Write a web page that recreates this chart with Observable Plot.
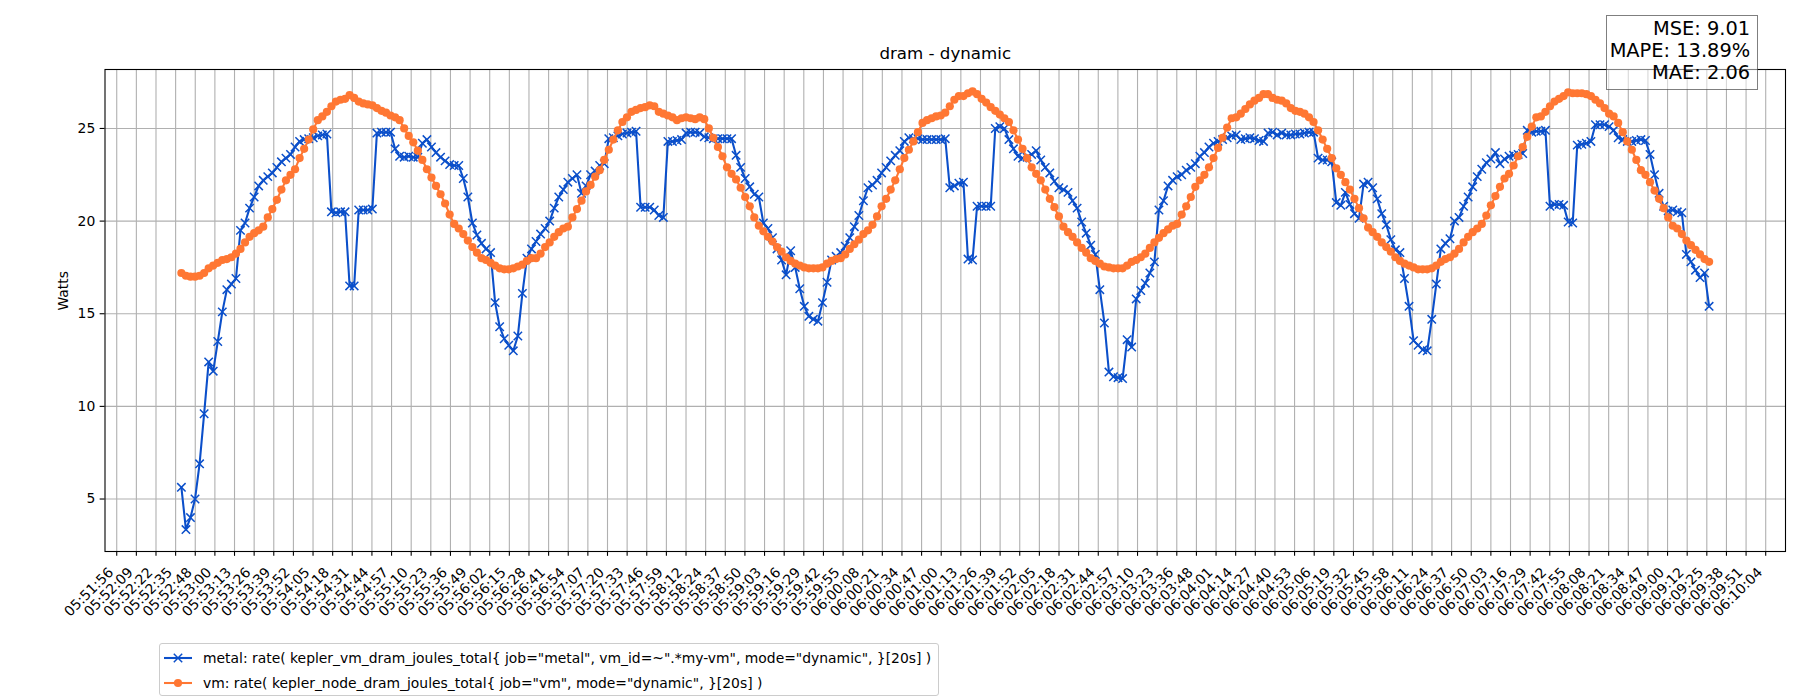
<!DOCTYPE html>
<html>
<head>
<meta charset="utf-8">
<script src="https://cdn.jsdelivr.net/npm/d3@7"></script>
<script src="https://cdn.jsdelivr.net/npm/@observablehq/plot@0.6"></script>
<style>
  html, body { margin: 0; padding: 0; background: #ffffff; }
  #wrap { position: relative; width: 1800px; height: 700px; font-family: "DejaVu Sans", sans-serif; color: #000; }
  #wrap svg, #wrap svg text { font-family: "DejaVu Sans", sans-serif !important; }
  #metrics { position: absolute; left: 1605.5px; top: 15px; width: 152px; height: 74.5px; box-sizing: border-box;
    border: 1px solid rgba(0,0,0,0.5); background: rgba(255,255,255,0.5); font-size: 19.4px; }
  #metrics div { position: absolute; right: 6.3px; line-height: 1; white-space: nowrap; }
  #legend { position: absolute; left: 159px; top: 643px; width: 780px; height: 53px; box-sizing: border-box;
    border: 1px solid #cccccc; border-radius: 3px; background: rgba(255,255,255,0.8); font-size: 13.9px; }
  #legend .row { position: absolute; left: 3px; height: 20px; display: flex; align-items: center; white-space: nowrap; }
  #legend svg { margin-right: 11px; }
</style>
</head>
<body>
<div id="wrap"></div>
<script>
// ---------------- data ----------------
const chartTitle = "dram - dynamic";
const yLabel = "Watts";
const metricLines = ["MSE: 9.01", "MAPE: 13.89%", "MAE: 2.06"];
const legendLabels = [
  'metal: rate( kepler_vm_dram_joules_total{ job="metal", vm_id=~".*my-vm", mode="dynamic", }[20s] )',
  'vm: rate( kepler_node_dram_joules_total{ job="vm", mode="dynamic", }[20s] )'
];
const yTicks = [5, 10, 15, 20, 25];
const xTickLabels = [
  "05:51:56","05:52:09","05:52:22","05:52:35","05:52:48","05:53:00","05:53:13","05:53:26","05:53:39","05:53:52",
  "05:54:05","05:54:18","05:54:31","05:54:44","05:54:57","05:55:10","05:55:23","05:55:36","05:55:49","05:56:02",
  "05:56:15","05:56:28","05:56:41","05:56:54","05:57:07","05:57:20","05:57:33","05:57:46","05:57:59","05:58:12",
  "05:58:24","05:58:37","05:58:50","05:59:03","05:59:16","05:59:29","05:59:42","05:59:55","06:00:08","06:00:21",
  "06:00:34","06:00:47","06:01:00","06:01:13","06:01:26","06:01:39","06:01:52","06:02:05","06:02:18","06:02:31",
  "06:02:44","06:02:57","06:03:10","06:03:23","06:03:36","06:03:48","06:04:01","06:04:14","06:04:27","06:04:40",
  "06:04:53","06:05:06","06:05:19","06:05:32","06:05:45","06:05:58","06:06:11","06:06:24","06:06:37","06:06:50",
  "06:07:03","06:07:16","06:07:29","06:07:42","06:07:55","06:08:08","06:08:21","06:08:34","06:08:47","06:09:00",
  "06:09:12","06:09:25","06:09:38","06:09:51","06:10:04"
];
const firstSample = "05:52:38.66";   // time of first sample
const sampleStepSeconds = 3;          // sampling step

const metalWatts = [
  5.63,3.35,4.0,5.0,6.9,9.6,12.4,11.9,13.5,15.1,16.3,16.6,16.9,19.5,19.9,20.7,21.3,21.9,22.2,22.4,
  22.6,22.9,23.2,23.4,23.6,24.0,24.3,24.4,24.45,24.5,24.6,24.65,24.7,
  20.5,20.45,20.5,20.5, 16.5,16.5, 20.6,20.6,20.6,20.65, 24.75,24.8,24.8,24.8,
  23.9,23.5,23.45,23.5,23.45,23.45,24.2,24.4,24.0,
  23.7,23.45,23.25,23.05,23.0,23.0,22.3,21.3,19.9,19.25,18.8,18.5,
  18.3,15.6,14.3,13.65,13.3,13.0,13.8,16.1,18.0,18.5,18.9,19.3,19.6,20.0,20.7,21.3,21.7,22.1,22.3,22.5,
  21.5,21.9,22.5,22.7,23.0,23.1,
  24.45,24.5,24.6,24.7,24.75,24.8,24.85,
  20.75,20.75,20.75,20.6,20.3,20.2,
  24.3,24.3,24.35,24.4,24.75,
  24.8,24.8,24.75,24.55,24.5,24.45,24.45,24.45,24.45,24.45,
  23.55,22.9,22.3,21.85,21.45,21.3,19.9,19.6,19.1,18.5,17.9,17.1,
  18.4,17.5,16.35,15.4,14.86,14.7,14.6,15.6,16.7,17.9,18.1,18.3,
  18.65,19.1,19.7,20.3,21.1,21.8,21.95,22.2,22.6,22.9,23.25,23.55,23.8,24.3,24.5,
  24.45,24.45,24.4,24.4,24.4,24.4,24.4,24.45,
  21.8,21.9,22.05,22.1, 17.95,17.9, 20.8,20.8,20.8,20.8, 25.0,25.1,25.0,
  24.4,23.9,23.5,23.4,23.45,23.6,23.8,23.3,22.9,22.6,22.15,21.8,21.7,21.55,21.1,20.7,19.95,19.35,18.7,18.2,
  16.3,14.5,11.85,11.6,11.55,11.5,13.6,13.2,15.8,16.25,16.65,17.2,17.8,
  20.6,21.1,21.9,22.2,22.4,22.5,22.75,22.9,23.1,
  23.5,23.7,24.0,24.2,24.3,24.4,24.5,24.6,24.65,24.4,24.45,24.5,24.45,24.35,24.3,24.75,24.8,24.65,24.75,24.65,
  24.65,24.7,24.7,24.75,24.8,24.8,
  23.4,23.3,23.3,23.2,
  21.0,20.85,21.55,20.9,20.4,20.15,
  22.0,22.1,21.8,21.2,20.4,19.8,19.0,18.45,18.3,16.9,15.4,13.55,13.3,13.05,13.0,14.7,16.6,18.5,18.8,19.05,20.0,
  20.2,20.8,21.3,21.85,22.4,22.8,23.15,23.35,23.7,23.1,23.35,23.5,23.55,23.6,23.65,24.9,24.8,24.85,24.85,24.9,
  20.8,20.9,20.9,20.85,19.95,19.9,
  24.1,24.15,24.2,24.3,
  25.2,25.2,25.2,25.1,24.9,24.5,24.4,24.3,24.3,24.35,24.4,24.35,
  23.6,22.5,21.5,20.8,20.55,20.6,20.5,20.45,18.2,17.8,17.35,16.95,17.2,15.4
];

const vmWatts = [
  17.2,17.05,17.0,17.0,17.05,17.2,17.45,17.6,17.75,17.9,17.95,18.05,18.25,18.5,18.85,19.15,19.35,19.5,19.7,20.2,
  20.65,21.15,21.7,22.2,22.5,22.8,23.4,23.9,24.4,24.95,25.45,25.65,25.9,26.2,26.45,26.55,26.6,26.8,26.65,26.45,
  26.35,26.3,26.25,26.1,25.95,25.85,25.7,25.6,25.45,25.0,24.6,24.25,23.8,23.3,22.8,22.35,
  21.9,21.45,20.95,20.35,19.85,19.6,19.3,18.95,18.6,18.3,18.0,17.9,17.75,17.6,17.45,17.4,17.4,17.45,17.55,17.65,
  17.85,18.0,18.0,18.25,18.6,18.85,19.15,19.4,19.6,19.7,20.2,20.65,21.1,21.6,21.95,22.4,22.75,23.3,23.85,24.4,
  24.9,25.35,25.6,25.9,26.0,26.1,26.15,26.25,26.2,25.9,25.8,25.7,25.6,25.45,25.55,25.6,
  25.55,25.5,25.6,25.5,25.0,24.5,24.0,23.5,22.9,22.55,22.25,21.8,21.3,20.8,20.2,19.75,19.45,19.15,18.9,18.6,
  18.35,18.05,17.85,17.7,17.6,17.5,17.45,17.45,17.45,17.5,17.7,17.85,17.95,18.0,18.2,18.5,18.75,19.0,19.3,19.5,
  19.8,20.25,20.8,21.2,21.7,22.2,22.8,23.4,23.85,24.3,24.8,25.3,25.45,25.55,25.65,25.7,
  25.85,26.2,26.55,26.75,26.75,26.9,27.0,26.85,26.6,26.4,26.15,25.95,25.75,25.55,25.35,24.9,24.4,23.9,23.4,22.9,
  22.55,22.2,21.7,21.2,20.75,20.25,19.7,19.4,19.15,18.85,18.55,18.3,18.0,17.85,17.7,17.55,17.5,17.45,17.45,17.45,
  17.6,17.8,17.9,18.05,18.25,18.55,18.85,19.1,19.35,19.55,19.75,19.85,20.35,20.8,21.3,21.85,
  22.2,22.5,22.9,23.4,23.95,24.5,25.05,25.55,25.6,25.8,26.05,26.3,26.5,26.65,26.85,26.85,26.65,26.55,26.5,26.35,
  26.1,25.95,25.9,25.8,25.6,25.35,24.9,24.4,23.9,23.4,22.85,22.5,22.1,21.7,21.2,20.7,20.15,19.65,19.4,19.15,
  18.85,18.6,18.35,18.05,17.85,17.7,17.6,17.5,17.4,17.4,17.4,17.45,17.6,17.8,17.95,18.05,18.25,
  18.5,18.85,19.15,19.4,19.6,19.85,20.3,20.85,21.35,21.85,22.3,22.55,23.0,23.5,24.0,24.55,25.1,25.6,25.65,25.9,
  26.2,26.45,26.6,26.75,26.95,26.9,26.9,26.9,26.85,26.75,26.55,26.35,26.1,25.8,25.65,25.3,24.8,24.3,23.85,23.3,
  22.75,22.5,22.1,21.65,21.2,20.7,20.2,19.75,19.6,19.3,18.95,18.7,18.45,18.2,17.95,17.8
];

const metalColor = "#0b4fca";
const vmColor = "#ff7733";

// ---------------- build ----------------
const FONT = "DejaVu Sans";
const day = "2024-01-01T";
const parseT = s => new Date(day + s + "Z").getTime();
const tickStart = parseT(xTickLabels[0]);
const tickEnd = parseT(xTickLabels[xTickLabels.length - 1]);
const tickData = xTickLabels.map((label, i) => ({
  t: new Date(Math.round(tickStart + i * (tickEnd - tickStart) / (xTickLabels.length - 1))),
  label
}));
const tickDates = tickData.map(d => d.t);

const t0 = parseT(firstSample);
const toRows = arr => arr.map((v, i) => ({t: new Date(t0 + i * sampleStepSeconds * 1000), v}));
const metal = toRows(metalWatts);
const vm = toRows(vmWatts);

const allT = [...metal, ...vm].map(d => +d.t);
const tMin = d3.min(allT), tMax = d3.max(allT);
const tPad = 0.05 * (tMax - tMin);
const allV = [...metalWatts, ...vmWatts];
const vMin = d3.min(allV), vMax = d3.max(allV);
const vPad = 0.05 * (vMax - vMin);

const FS = 13.9;
const chart = Plot.plot({
  width: 1800,
  height: 700,
  marginLeft: 104.5,
  marginRight: 15,
  marginTop: 69,
  marginBottom: 149,
  style: {fontFamily: FONT, fontSize: FS + "px", background: "transparent", color: "black", overflow: "visible"},
  x: {type: "utc", domain: [new Date(tMin - tPad), new Date(tMax + tPad)]},
  y: {domain: [vMin - vPad, vMax + vPad]},
  marks: [
    Plot.gridX(tickDates, {stroke: "#b0b0b0", strokeOpacity: 1, strokeWidth: 1.1}),
    Plot.gridY(yTicks, {stroke: "#b0b0b0", strokeOpacity: 1, strokeWidth: 1.1}),
    Plot.line(metal, {x: "t", y: "v", stroke: metalColor, strokeWidth: 2.08, strokeLinejoin: "round"}),
    Plot.dot(metal, {x: "t", y: "v", symbol: "times", r: 3.9, stroke: metalColor, strokeWidth: 1.5}),
    Plot.line(vm, {x: "t", y: "v", stroke: vmColor, strokeWidth: 2.08, strokeLinejoin: "round"}),
    Plot.dot(vm, {x: "t", y: "v", r: 4.1, fill: vmColor, stroke: "none"}),
    Plot.frame({stroke: "black", strokeWidth: 1.1}),
    Plot.axisX({ticks: tickDates, tickSize: 4.86, tickFormat: () => "", label: null, strokeWidth: 1.1, fontFamily: FONT}),
    Plot.text(tickData, {x: "t", text: "label", frameAnchor: "bottom", rotate: -45, textAnchor: "end",
      lineAnchor: "middle", dx: -5.7, dy: 18.5, fontSize: FS, fontFamily: FONT, fill: "black"}),
    Plot.axisY({ticks: yTicks, tickSize: 4.86, tickPadding: 4.86, label: null, fontSize: FS, fontFamily: FONT,
      strokeWidth: 1.1, tickFormat: d => String(d)}),
    Plot.text([yLabel], {text: d => d, frameAnchor: "left", rotate: -90, dx: -41, fontSize: FS, fontFamily: FONT, fill: "black"}),
    Plot.text([chartTitle], {text: d => d, frameAnchor: "top", dy: -15.5, fontSize: 16.67, fontFamily: FONT,
      fill: "black", lineAnchor: "middle"})
  ]
});

const wrap = document.getElementById("wrap");
wrap.appendChild(chart);

// metrics box
const metrics = document.createElement("div");
metrics.id = "metrics";
metricLines.forEach((s, i) => {
  const d = document.createElement("div");
  d.textContent = s;
  d.style.top = (3.3 + i * 21.8) + "px";
  metrics.appendChild(d);
});
wrap.appendChild(metrics);

// legend
const legend = document.createElement("div");
legend.id = "legend";
const rowTops = [3.7, 28.6];
legendLabels.forEach((label, i) => {
  const row = document.createElement("div");
  row.className = "row";
  row.style.top = rowTops[i] + "px";
  const ns = "http://www.w3.org/2000/svg";
  const svg = document.createElementNS(ns, "svg");
  svg.setAttribute("width", "29");
  svg.setAttribute("height", "20");
  const ln = document.createElementNS(ns, "line");
  ln.setAttribute("x1", "1"); ln.setAttribute("x2", "29"); ln.setAttribute("y1", "10"); ln.setAttribute("y2", "10");
  ln.setAttribute("stroke", i === 0 ? metalColor : vmColor); ln.setAttribute("stroke-width", "2.08");
  svg.appendChild(ln);
  if (i === 0) {
    const p = document.createElementNS(ns, "path");
    p.setAttribute("d", "M10.8,5.8L19.2,14.2M10.8,14.2L19.2,5.8");
    p.setAttribute("stroke", metalColor); p.setAttribute("stroke-width", "1.5");
    svg.appendChild(p);
  } else {
    const c = document.createElementNS(ns, "circle");
    c.setAttribute("cx", "15"); c.setAttribute("cy", "10"); c.setAttribute("r", "4.1");
    c.setAttribute("fill", vmColor);
    svg.appendChild(c);
  }
  row.appendChild(svg);
  const span = document.createElement("span");
  span.textContent = label;
  row.appendChild(span);
  legend.appendChild(row);
});
wrap.appendChild(legend);
</script>
</body>
</html>
